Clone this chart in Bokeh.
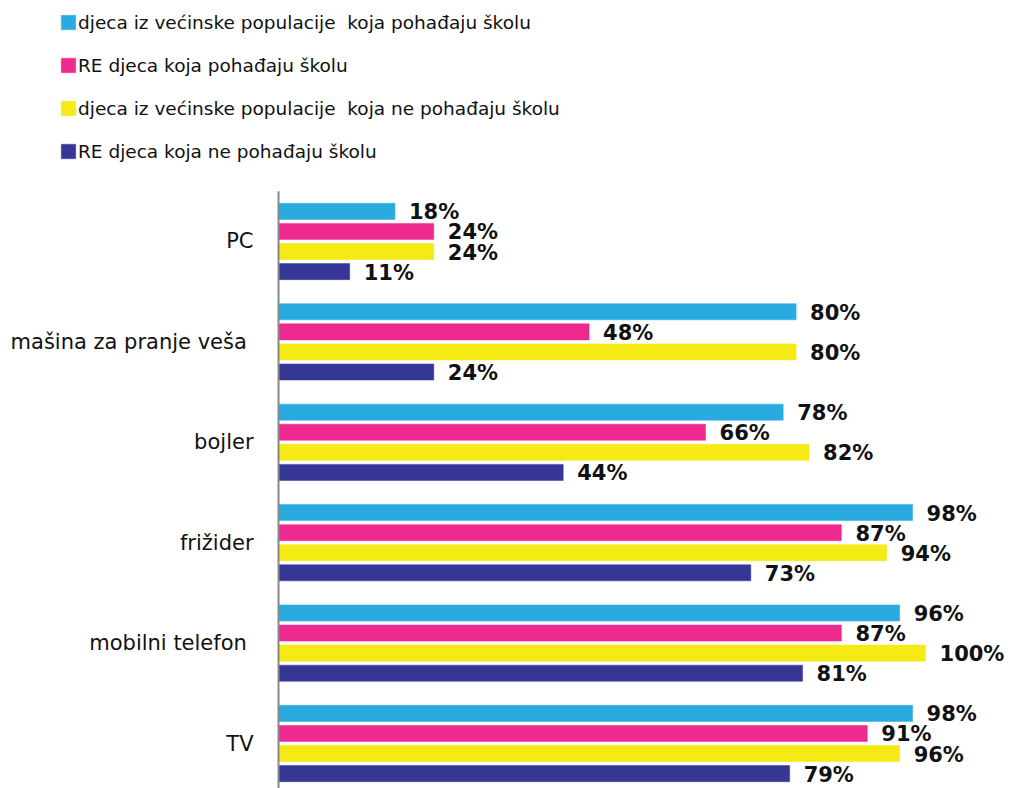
from bokeh.plotting import figure
from bokeh.models import ColumnDataSource, Range1d, Legend, LegendItem
from bokeh.embed import file_html
from bokeh.resources import INLINE
from bokeh.core.properties import value

# categories top to bottom
categories = ["PC", "mašina za pranje veša ", "bojler", "frižider", "mobilni telefon ", "TV"]
series_names = [
    "djeca iz većinske populacije  koja pohađaju školu",
    "RE djeca koja pohađaju školu",
    "djeca iz većinske populacije  koja ne pohađaju školu",
    "RE djeca koja ne pohađaju školu",
]
majority_school = [18, 80, 78, 98, 96, 98]
re_school = [24, 48, 66, 87, 87, 91]
majority_no_school = [24, 80, 82, 94, 100, 96]
re_no_school = [11, 24, 44, 73, 81, 79]

colors = ["#29ABE2", "#EE2A8F", "#F5EA14", "#363795"]
series_values = [majority_school, re_school, majority_no_school, re_no_school]
offsets = [0.3, 0.1, -0.1, -0.3]

n = len(categories)
positions = [n - 1 - i for i in range(n)]  # PC on top

W, H = 1011, 788
p = figure(
    width=W, height=H,
    x_range=Range1d(-42.97, 113.29),
    y_range=Range1d(-0.448, 7.400),
    output_backend="svg", toolbar_location=None,
    min_border=0, min_border_left=0, min_border_right=0,
    min_border_top=0, min_border_bottom=0,
)
p.xaxis.visible = False
p.yaxis.visible = False
p.grid.visible = False
p.outline_line_color = None

items = []
for name, vals, col, off in zip(series_names, series_values, colors, offsets):
    ys = [pos + off for pos in positions]
    src = ColumnDataSource(dict(y=ys, v=vals, lab=[f"{x}%" for x in vals]))
    r = p.hbar(y="y", right="v", left=0, height=0.16,
               source=src, fill_color=col, line_color=col, line_alpha=0.5)
    p.text(x="v", y="y", text="lab", source=src,
           x_offset=14, y_offset=1, text_baseline="middle", text_align="left",
           text_font=value("DejaVu Sans"), text_font_style="bold",
           text_font_size="21px", text_color="#111111")
    items.append(LegendItem(label=name, renderers=[r]))

# category axis line and labels
p.segment(x0=0, y0=min(positions) - 0.5, x1=0, y1=max(positions) + 0.5,
          line_color="#888888", line_width=2)
cat_src = ColumnDataSource(dict(y=positions, cat=categories))
p.text(x=0, y="y", text="cat", source=cat_src, x_offset=-25, y_offset=0,
       text_align="right", text_baseline="middle",
       text_font=value("DejaVu Sans"), text_font_size="21px", text_color="#111111")

legend = Legend(items=items, location=(59, 626),
                glyph_width=18, glyph_height=18, label_height=22, spacing=21,
                label_standoff=1, padding=0, margin=0,
                label_text_font="DejaVu Sans", label_text_font_size="18.5px",
                label_text_color="#111111", border_line_color=None,
                background_fill_alpha=0)
p.add_layout(legend, "center")

open("out.html", "w").write(file_html(p, INLINE))
